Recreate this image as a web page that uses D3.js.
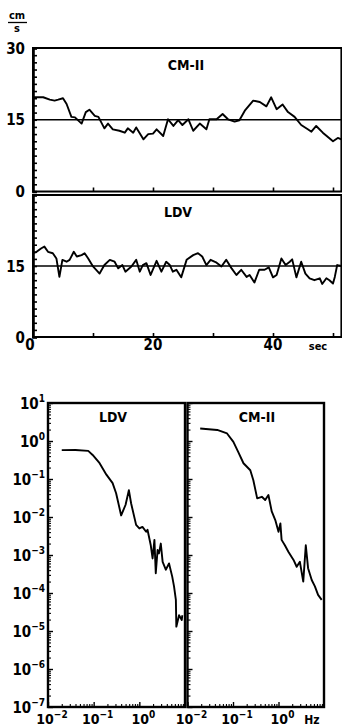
<!DOCTYPE html>
<html>
<head>
<meta charset="utf-8">
<script src="https://cdn.jsdelivr.net/npm/d3@7"></script>
<style>
  body { margin: 0; background: #fff; }
  svg { display: block; font-family: "DejaVu Sans Condensed", "Liberation Sans Narrow", sans-serif; }
</style>
</head>
<body>
<svg id="chart" width="342" height="728"></svg>
<script>
// time records (sec, cm/s)
const cmTime = [0, 1.7, 2.8, 3.6, 4.2, 5, 5.6, 6.4, 7.0, 8.1, 8.8, 9.4, 10.3, 10.9, 11.9, 12.5, 13.3, 14.4, 15.3, 15.8,
  16.7, 17.2, 18.4, 19.2, 20.0, 20.6, 21.7, 22.5, 23.4, 24.2, 24.9, 25.9, 26.7, 27.8, 28.9, 29.4, 30.6, 31.6, 32.5, 33.6,
  34.4, 35.3, 36.7, 37.8, 38.9, 39.7, 40.6, 41.6, 42.5, 43.6, 44.7, 45.8, 46.4, 47.2, 48.3, 50.0, 50.8, 51.4]
const cmSpeed = [19.7, 19.7, 19.2, 19.0, 19.2, 19.5, 18.3, 15.6, 15.5, 14.2, 16.6, 17.1, 15.8, 15.6, 13.2, 14.2, 13.0, 12.7, 12.3, 13.2,
  12.3, 13.4, 10.9, 12.0, 12.1, 13.0, 11.6, 15.1, 13.7, 14.9, 13.9, 15.1, 12.7, 14.2, 13.0, 15.1, 15.1, 16.2, 15.1, 14.6,
  14.9, 16.9, 19.0, 18.7, 17.8, 19.7, 17.2, 18.2, 16.6, 15.6, 13.9, 13.0, 12.5, 13.7, 12.3, 10.5, 11.2, 10.9]

const ldvTime = [0, 0.6, 1.4, 1.9, 2.5, 3.3, 3.9, 4.4, 4.9, 5.6, 6.1, 6.8, 7.3, 8.1, 8.6, 9.2, 10.0, 11.1, 11.9, 12.8,
  13.6, 14.2, 14.9, 15.4, 16.4, 17.2, 17.8, 18.3, 18.9, 19.6, 20.6, 21.4, 22.2, 22.8, 23.3, 23.9, 24.7, 25.6, 26.7, 27.5,
  28.2, 28.9, 29.6, 30.6, 31.4, 32.2, 33.1, 33.9, 34.7, 35.6, 36.1, 36.9, 37.7, 38.6, 39.3, 40.0, 40.6, 41.4, 42.1, 42.8,
  43.2, 43.9, 44.7, 45.4, 46.1, 46.9, 47.8, 48.2, 48.9, 49.4, 50.0, 50.3, 50.7, 51.4]
const ldvSpeed = [17.7, 18.0, 18.75, 19.1, 18.0, 17.7, 16.6, 12.7, 16.3, 15.9, 16.3, 18.0, 17.0, 17.3, 17.7, 16.6, 14.9, 13.4, 15.2, 16.3,
  15.9, 14.5, 15.2, 13.8, 14.9, 16.3, 13.8, 15.2, 15.6, 13.1, 16.1, 13.8, 15.9, 15.2, 13.8, 14.2, 12.6, 16.3, 17.3, 17.7,
  17.0, 15.2, 16.3, 15.7, 14.9, 16.3, 14.5, 13.1, 14.2, 12.7, 13.1, 11.5, 14.2, 14.2, 14.7, 12.6, 13.1, 16.6, 15.2, 15.9,
  16.4, 12.6, 15.9, 13.4, 12.4, 12.0, 12.4, 11.2, 12.4, 12.0, 11.3, 12.7, 15.2, 15.0]

const meanSpeed = 15
const speedLabels = [0, 15, 30]
const timeLabels = [0, 20, 40]

// spectra (Hz, power)
const ldvFreq = [0.020, 0.04, 0.076, 0.095, 0.135, 0.19, 0.26, 0.31, 0.40, 0.50, 0.59, 0.66, 0.85, 1.0, 1.17, 1.41, 1.51,
  1.78, 1.95, 2.14, 2.29, 2.51, 2.69, 2.95, 3.24, 3.80, 4.47, 5.25, 5.75, 6.31, 6.46, 7.41, 8.51, 8.71]
const ldvPower = [0.575, 0.58, 0.55, 0.43, 0.26, 0.13, 0.078, 0.042, 0.011, 0.021, 0.051, 0.023, 0.0062, 0.0050, 0.0055, 0.0041, 0.0046,
  0.0018, 0.00081, 0.0025, 0.00033, 0.00135, 0.0011, 0.0020, 0.00066, 0.00041, 0.0006, 0.00027, 0.00015, 0.000066, 0.000013, 0.000026, 0.0000195, 0.000026]

const cmFreq = [0.019, 0.045, 0.074, 0.102, 0.13, 0.17, 0.24, 0.28, 0.34, 0.43, 0.51, 0.60, 0.71, 0.85, 1.0,
  1.10, 1.17, 1.38, 1.66, 2.14, 2.51, 2.95, 3.5, 3.98, 4.47, 5.37, 6.31, 7.41, 8.9]
const cmPower = [2.14, 1.95, 1.58, 0.95, 0.52, 0.26, 0.17, 0.093, 0.031, 0.034, 0.028, 0.038, 0.014, 0.0083, 0.0041,
  0.0068, 0.0025, 0.0018, 0.0012, 0.00074, 0.00049, 0.00066, 0.0002, 0.0018, 0.00045, 0.00022, 0.00015, 0.000089, 0.000066]

const powerExponents = [1, 0, -1, -2, -3, -4, -5, -6, -7]
const freqExponents = [-2, -1, 0]

const svg = d3.select('#chart')

// ---- time records ----
const x = d3.scaleLinear().domain([0, 51.4]).range([33, 341.4])

function timePanel(top, bottom, title, time, speed, titleX) {
  const y = d3.scaleLinear().domain([0, 30]).range([bottom, top])
  const g = svg.append('g')

  g.append('rect')
    .attr('x', 33).attr('y', top).attr('width', 308.4).attr('height', bottom - top)
    .attr('fill', 'none').attr('stroke', '#000').attr('stroke-width', 2)

  g.append('g')
    .attr('transform', 'translate(33,0)')
    .call(d3.axisLeft(y).tickValues(d3.range(0, 30.01, 1.5)).tickSize(-4).tickFormat(''))
    .call((a) => a.select('.domain').attr('stroke-width', 2.6))
    .selectAll('line').attr('stroke-width', 1.6)

  g.append('g')
    .attr('transform', `translate(0,${bottom})`)
    .call(d3.axisBottom(x).tickValues(d3.range(10, 51, 10)).tickSize(-4).tickFormat(''))
    .call((a) => a.select('.domain').remove())
    .selectAll('line').attr('stroke-width', 1.6)

  g.append('line')
    .attr('x1', x(0)).attr('x2', x(51.4))
    .attr('y1', y(meanSpeed)).attr('y2', y(meanSpeed))
    .attr('stroke', '#000').attr('stroke-width', 1.7)

  const line = d3.line().x((d, i) => x(time[i])).y((d) => y(d))
  g.append('path')
    .attr('d', line(speed))
    .attr('fill', 'none').attr('stroke', '#000').attr('stroke-width', 1.9)
    .attr('stroke-linejoin', 'round')

  g.append('text')
    .attr('x', titleX).attr('y', top + 22)
    .attr('text-anchor', 'middle').attr('font-size', 14).attr('font-weight', 'bold')
    .text(title)

  return y
}

const y1 = timePanel(48, 191.5, 'CM-II', cmTime, cmSpeed, 186)
const y2 = timePanel(195, 337, 'LDV', ldvTime, ldvSpeed, 178)

svg.selectAll('.lab1')
  .data(speedLabels)
  .join('text')
  .attr('x', 25).attr('y', (d) => y1(d) + 5.5)
  .attr('text-anchor', 'end').attr('font-size', 15).attr('font-weight', 'bold')
  .text((d) => d)

svg.selectAll('.lab2')
  .data(speedLabels.slice(0, 2))
  .join('text')
  .attr('x', 25).attr('y', (d) => y2(d) + 5.5)
  .attr('text-anchor', 'end').attr('font-size', 15).attr('font-weight', 'bold')
  .text((d) => d)

svg.selectAll('.tlab')
  .data(timeLabels)
  .join('text')
  .attr('x', (d) => x(d) - (d === 0 ? 3 : 0)).attr('y', 350)
  .attr('text-anchor', 'middle').attr('font-size', 15).attr('font-weight', 'bold')
  .text((d) => d)

svg.append('text').attr('x', 318).attr('y', 350).attr('text-anchor', 'middle')
  .attr('font-size', 11).attr('font-weight', 'bold').text('sec')

// unit cm/s
svg.append('text').attr('x', 17).attr('y', 19).attr('text-anchor', 'middle')
  .attr('font-size', 11).attr('font-weight', 'bold').text('cm')
svg.append('line').attr('x1', 8).attr('x2', 27).attr('y1', 22.5).attr('y2', 22.5)
  .attr('stroke', '#000').attr('stroke-width', 1.3)
svg.append('text').attr('x', 17).attr('y', 32).attr('text-anchor', 'middle')
  .attr('font-size', 11).attr('font-weight', 'bold').text('s')

// ---- spectra ----
const ySpec = d3.scaleLog().domain([1e-7, 10]).range([707, 403])
const minorPower = []
for (let e = -7; e < 1; e++) for (let m = 2; m <= 9; m++) minorPower.push(m * Math.pow(10, e))
const minorFreq = []
for (let e = -2; e < 1; e++) for (let m = 2; m <= 9; m++) minorFreq.push(m * Math.pow(10, e))

function specPanel(left, right, title, titleX, freq, power) {
  const xs = d3.scaleLog().domain([0.01, 10]).range([left, right])
  const g = svg.append('g')

  g.append('rect')
    .attr('x', left).attr('y', 403).attr('width', right - left).attr('height', 304)
    .attr('fill', 'none').attr('stroke', '#000').attr('stroke-width', 2.4)

  g.append('g')
    .attr('transform', `translate(${left},0)`)
    .call(d3.axisLeft(ySpec).tickValues(powerExponents.map((e) => Math.pow(10, e))).tickSize(-5).tickFormat(''))
    .call((a) => a.select('.domain').remove())
    .selectAll('line').attr('stroke-width', 1.4)
  g.append('g')
    .attr('transform', `translate(${left},0)`)
    .call(d3.axisLeft(ySpec).tickValues(minorPower).tickSize(-3).tickFormat(''))
    .call((a) => a.select('.domain').remove())
    .selectAll('line').attr('stroke-width', 1.1)

  g.append('g')
    .attr('transform', 'translate(0,707)')
    .call(d3.axisBottom(xs).tickValues(freqExponents.map((e) => Math.pow(10, e))).tickSize(-5).tickFormat(''))
    .call((a) => a.select('.domain').remove())
    .selectAll('line').attr('stroke-width', 1.4)
  g.append('g')
    .attr('transform', 'translate(0,707)')
    .call(d3.axisBottom(xs).tickValues(minorFreq).tickSize(-3).tickFormat(''))
    .call((a) => a.select('.domain').remove())
    .selectAll('line').attr('stroke-width', 1.1)

  const line = d3.line().x((d, i) => xs(freq[i])).y((d) => ySpec(d))
  g.append('path')
    .attr('d', line(power))
    .attr('fill', 'none').attr('stroke', '#000').attr('stroke-width', 1.9)
    .attr('stroke-linejoin', 'round')

  g.append('text')
    .attr('x', titleX).attr('y', 422)
    .attr('text-anchor', 'middle').attr('font-size', 14).attr('font-weight', 'bold')
    .text(title)

  g.selectAll('.flab')
    .data(freqExponents)
    .join('text')
    .attr('x', (d) => xs(Math.pow(10, d)) + 4).attr('y', 724)
    .attr('text-anchor', 'middle').attr('font-size', 14).attr('font-weight', 'bold')
    .call((t) => {
      t.append('tspan').text('10')
      t.append('tspan').attr('dy', -6).attr('font-size', 10).text((d) => d < 0 ? '\u2212' + (-d) : d)
    })

  return xs
}

specPanel(48, 185, 'LDV', 113, ldvFreq, ldvPower)
specPanel(187.5, 324, 'CM-II', 257, cmFreq, cmPower)

svg.selectAll('.plab')
  .data(powerExponents)
  .join('text')
  .attr('x', 45).attr('y', (d) => ySpec(Math.pow(10, d)) + 5.5)
  .attr('text-anchor', 'end').attr('font-size', 15).attr('font-weight', 'bold')
  .call((t) => {
    t.append('tspan').text('10')
    t.append('tspan').attr('dy', -7).attr('font-size', 10).text((d) => d < 0 ? '\u2212' + (-d) : d)
  })

svg.append('text').attr('x', 312).attr('y', 724).attr('text-anchor', 'middle')
  .attr('font-size', 12).attr('font-weight', 'bold').text('Hz')
</script>
</body>
</html>
